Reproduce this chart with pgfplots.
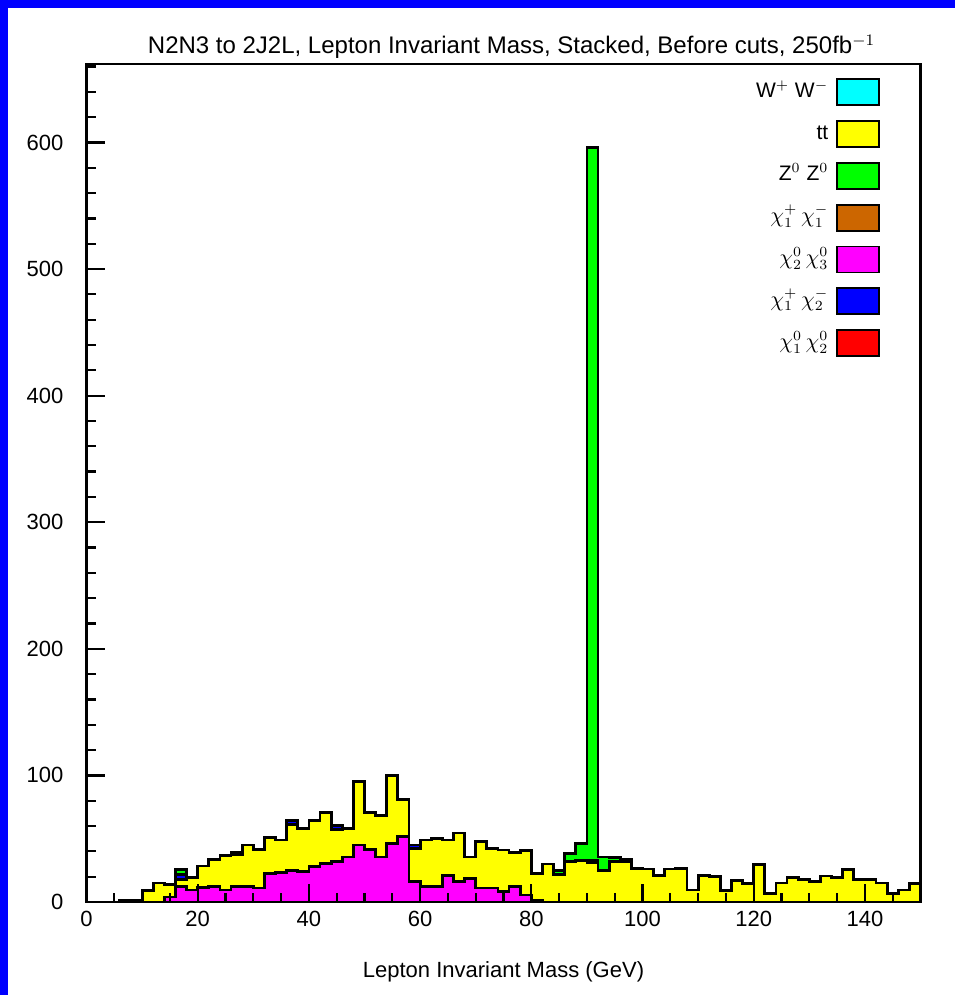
\documentclass[border=0pt]{standalone}
\usepackage{fontspec}
\setmainfont{Liberation Sans}
\usepackage{pgfplots}
\usepackage{pgfplotstable}
\pgfplotsset{compat=1.18}

\definecolor{cWW}{RGB}{0,255,255}
\definecolor{cTT}{RGB}{255,255,0}
\definecolor{cZZ}{RGB}{0,255,0}
\definecolor{cC11}{RGB}{204,102,0}
\definecolor{cN23}{RGB}{255,0,255}
\definecolor{cC12}{RGB}{0,0,255}
\definecolor{cN12}{RGB}{255,0,0}

% 2 GeV bins, left edges; last row closes the final bin
\pgfplotstableread{
x   n12  n23   tt    c12  zz
0   0    0     0     0    0
2   0    0     0     0    0
4   0    0     0     0    0
6   1.5  0     0     0    0
8   1.5  0     0     0    0
10  0    0     9     0    0
12  0    0     15    0    0
14  0    4     10    0    0
16  0    12.5  5     4    4
18  0    9.5   10    0    0
20  0    11.5  17    0    0
22  0    12.5  21    0    0
24  0    9.5   27.5  0    0
26  0    12    25.5  0    2
28  0    12    33    0    0
30  0    11    30.5  0    0
32  0    22.5  28.5  0    0
34  0    23    26    0    0
36  0    25    36.5  3    0
38  0    24    34    0    0
40  0    28    36.5  0    0
42  0    30.5  40.5  0    0
44  0    32    25.5  3    0
46  0    35.5  22.5  0    0
48  0    45    50.5  0    0
50  0    41.5  29.5  0    0
52  0    35.5  33    0    0
54  0    46    54    0    0
56  0    51.5  29.5  0    0
58  0    16    26    3    0
60  0    12    37    0    0
62  0    12    38    0    0
64  0    21    28    0    0
66  0    16    38.5  0    0
68  0    18.5  17    0    0
70  0    11    37    0    0
72  0    11    31    0    0
74  0    8     33    0    0
76  0    12    27    0    0
78  0    5.5   35    0    0
80  0    1     21.5  0    0
82  0    0     30    0    0
84  0    0     22    0    3
86  0    0     32    0    6
88  0    0     33    0    13
90  0    0     31    2    563
92  0    0     25    0    10.5
94  0    0     32    0    3
96  0    0     32    2    0
98  0    0     26.5  0    0
100 0    0     26    0    0
102 0    0     21    0    0
104 0    0     26    0    0
106 0    0     26.5  0    0
108 0    0     9.5   0    0
110 0    0     21    0    0
112 0    0     20    0    0
114 0    0     9     0    0
116 0    0     17    0    0
118 0    0     14.5  0    0
120 0    0     29.5  0    0
122 0    0     7     0    0
124 0    0     15    0    0
126 0    0     19.5  0    0
128 0    0     18    0    0
130 0    0     16    0    0
132 0    0     20.5  0    0
134 0    0     19.5  0    0
136 0    0     25.5  0    0
138 0    0     18    0    0
140 0    0     17.5  0    0
142 0    0     15    0    0
144 0    0     7     0    0
146 0    0     9.5   0    0
148 0    0     14.5  0    0
150 0    0     14.5  0    0
}\mass

\begin{document}
\begin{tikzpicture}
\path[use as bounding box] (0,0) rectangle (477.5pt,497.5pt);
\fill[blue] (0,0) rectangle (477.5pt,497.5pt);
\fill[white] (4pt,0) rectangle (477.5pt,493.5pt);
\begin{axis}[
  at={(43.25pt,46.5pt)}, anchor=south west,
  scale only axis, width=417pt, height=419pt,
  xmin=0, xmax=150, ymin=0, ymax=662,
  stack plots=y, const plot,
  axis on top,
  axis line style={line width=1.2pt},
  xtick={0,20,...,140}, minor xtick={0,5,...,150},
  ytick={0,100,...,600}, minor ytick={0,20,...,660},
  xtick pos=bottom, ytick pos=left,
  tick align=inside,
  major tick length=9pt, minor tick length=4.5pt,
  every tick/.style={line width=1.1pt, black},
  /pgf/number format/assume math mode=true,
  tick label style={font=\fontsize{11}{13}\selectfont},
  xticklabel style={yshift=-1pt},
  yticklabel style={xshift=-8pt},
  title={N2N3 to 2J2L, Lepton Invariant Mass, Stacked, Before cuts, 250fb$^{-1}$},
  title style={font=\fontsize{12}{14}\selectfont, yshift=-7pt, xshift=4pt},
  xlabel={Lepton Invariant Mass (GeV)},
  xlabel style={font=\fontsize{11}{13}\selectfont, yshift=-10.5pt},
  legend plot pos=right,
  legend cell align=right,
  legend style={draw=none, fill=none, at={(1,1)}, anchor=north east,
    xshift=-17pt, yshift=-5pt, row sep=7pt,
    nodes={text height=8pt, text depth=3pt, inner ysep=1pt, inner xsep=4pt},
    font=\fontsize{10.5}{12}\selectfont},
  legend image code/.code={\filldraw[#1, draw=black, line width=0.9pt] (0pt,-6.5pt) rectangle (21pt,6.5pt);},
  every axis plot/.append style={draw=black, line width=1.4pt},
]
\addplot[fill=cN12, forget plot] table[x=x, y=n12] {\mass} \closedcycle;
\addplot[fill=cN23, forget plot] table[x=x, y=n23] {\mass} \closedcycle;
\addplot[fill=cTT,  forget plot] table[x=x, y=tt]  {\mass} \closedcycle;
\addplot[fill=cC12, forget plot] table[x=x, y=c12] {\mass} \closedcycle;
\addplot[fill=cZZ,  forget plot] table[x=x, y=zz]  {\mass} \closedcycle;

\addlegendimage{fill=cWW}  \addlegendentry{W$^{+}$ W$^{-}$}
\addlegendimage{fill=cTT}  \addlegendentry{tt}
\addlegendimage{fill=cZZ}  \addlegendentry{Z$^{0}$ Z$^{0}$}
\addlegendimage{fill=cC11} \addlegendentry{$\chi^{+}_{1}\,\chi^{-}_{1}$}
\addlegendimage{fill=cN23} \addlegendentry{$\chi^{0}_{2}\,\chi^{0}_{3}$}
\addlegendimage{fill=cC12} \addlegendentry{$\chi^{+}_{1}\,\chi^{-}_{2}$}
\addlegendimage{fill=cN12} \addlegendentry{$\chi^{0}_{1}\,\chi^{0}_{2}$}
\end{axis}
\end{tikzpicture}
\end{document}
